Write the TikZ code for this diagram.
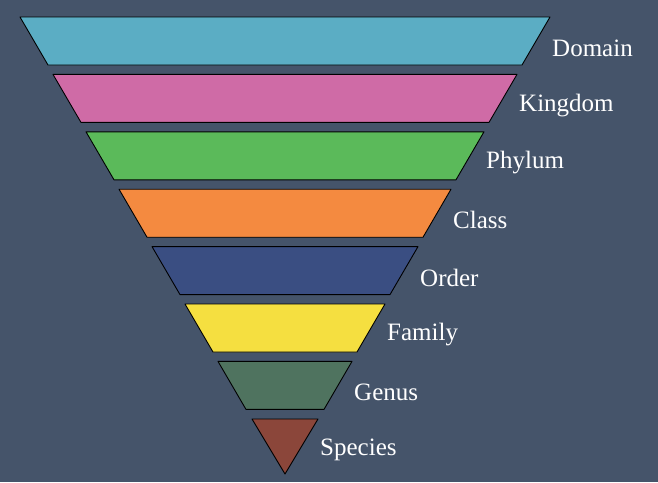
\documentclass[tikz,border=0pt]{standalone}
\usepackage{fontspec}
\setmainfont{Liberation Serif}
\definecolor{bg}{HTML}{45546A}
\definecolor{c1}{HTML}{5BADC4}
\definecolor{c2}{HTML}{CF6BA6}
\definecolor{c3}{HTML}{5BBA5A}
\definecolor{c4}{HTML}{F48A40}
\definecolor{c5}{HTML}{3A4E82}
\definecolor{c6}{HTML}{F5DF40}
\definecolor{c7}{HTML}{4F735F}
\definecolor{c8}{HTML}{8B463A}
\begin{document}
\begin{tikzpicture}[x=1pt,y=-1pt,
  layer/.style={draw=black,line width=0.9pt,line join=round},
  lab/.style={anchor=west,text=white,font=\fontsize{25}{28}\selectfont,inner sep=0pt}]
\fill[bg] (0,0) rectangle (658,482);
\foreach \i/\c/\t in {0/c1/Domain,1/c2/Kingdom,2/c3/Phylum,3/c4/Class,4/c5/Order,5/c6/Family,6/c7/Genus}{
  \pgfmathsetmacro{\yt}{17+57.4*\i}
  \pgfmathsetmacro{\xl}{20+33*\i}
  \pgfmathsetmacro{\xr}{550-33*\i}
  \path[layer,fill=\c] (\xl,\yt) -- (\xr,\yt) -- (\xr-28,\yt+48) -- (\xl+28,\yt+48) -- cycle;
  \node[lab] (L\i) at (\xr+2,\yt+31) {\t};
}
\path[layer,fill=c8] (252,419) -- (318,419) -- (285,474) -- cycle;
\node[lab] (L7) at (320,450) {Species};
\end{tikzpicture}
\end{document}
